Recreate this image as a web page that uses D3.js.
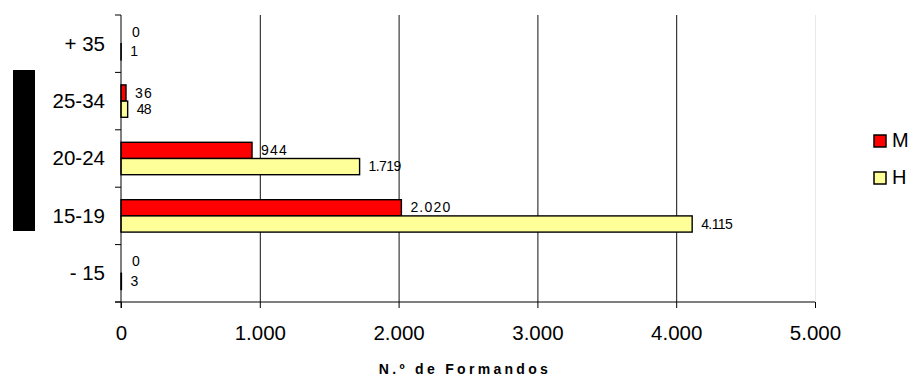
<!DOCTYPE html>
<html>
<head>
<meta charset="utf-8">
<script src="https://cdn.jsdelivr.net/npm/d3@7"></script>
<style>
  body { margin: 0; background: #fff; }
  text { font-family: 'Liberation Sans', Arial, sans-serif; }
</style>
</head>
<body>
<svg id="chart" width="913" height="376"></svg>
<script>
// age groups, top to bottom
var categories = ['+ 35', '25-34', '20-24', '15-19', '- 15']
var seriesNames = ['M', 'H']
var valuesM = [0, 36, 944, 2020, 0]
var valuesH = [1, 48, 1719, 4115, 3]
var xTicks = [0, 1000, 2000, 3000, 4000, 5000]
var colors = { M: '#ff0000', H: '#ffff99' }

var margin = { top: 15, left: 121, right: 98, bottom: 74 }
var svg = d3.select('#chart')
var width = +svg.attr('width') - margin.left - margin.right
var height = +svg.attr('height') - margin.top - margin.bottom

var fmt = function (v) {
    return d3.format(',')(v).replace(/,/g, '.')
}

var g = svg.append('g')
           .attr('transform', 'translate(' + margin.left + ',' + margin.top + ')')

var xScale = d3.scaleLinear().domain([0, 5000]).range([0, width])
var yScale = d3.scaleBand().domain(categories).range([0, height])
var inner = d3.scaleBand().domain(seriesNames).range([12.5, yScale.bandwidth() - 12.5])

// gridlines
g.selectAll('.grid')
 .data(xTicks.slice(1))
 .enter()
 .append('line')
 .attr('x1', function (d) { return xScale(d) + 0.5 })
 .attr('x2', function (d) { return xScale(d) + 0.5 })
 .attr('y1', 0)
 .attr('y2', height)
 .attr('stroke', function (d) { return d === 5000 ? '#e8e8e8' : '#111' })
 .attr('stroke-width', 1)

// bars
var rows = categories.map(function (c, i) {
    return { cat: c, M: valuesM[i], H: valuesH[i] }
})

var gs = g.selectAll('.row')
          .data(rows)
          .enter()
          .append('g')
          .attr('transform', function (d) { return 'translate(0,' + yScale(d.cat) + ')' })

seriesNames.forEach(function (s) {
    gs.filter(function (d) { return d[s] > 0 })
      .append('rect')
      .attr('x', 0)
      .attr('y', inner(s))
      .attr('width', function (d) { return xScale(d[s]) })
      .attr('height', inner.bandwidth())
      .attr('fill', colors[s])
      .attr('stroke', '#000')
      .attr('stroke-width', 1.4)

    gs.append('text')
      .attr('x', function (d) { return xScale(d[s]) + (d[s] === 0 ? 11 : 9) })
      .attr('y', function (d) {
          var off = d[s] === 0 ? -4 : -0.5
          return inner(s) + inner.bandwidth() / 2 + off
      })
      .attr('dy', '0.36em')
      .attr('font-size', '14px')
      .attr('letter-spacing', s === 'M' ? '1.2px' : '-0.6px')
      .attr('fill', '#000')
      .text(function (d) { return fmt(d[s]) })
})

// axes
var xAxis = d3.axisBottom(xScale).tickValues(xTicks).tickFormat(fmt).tickSize(6).tickPadding(17)
var gx = g.append('g')
          .attr('transform', 'translate(0,' + height + ')')
          .call(xAxis)
gx.attr('font-size', '20.5px')
  .attr('font-family', "'Liberation Sans', Arial, sans-serif")
gx.select('.domain').attr('d', 'M-6,0H' + width).attr('stroke', '#000')

var yAxis = d3.axisLeft(yScale).tickSize(0).tickPadding(16)
var gy = g.append('g').call(yAxis)
gy.attr('font-size', '20.5px')
  .attr('font-family', "'Liberation Sans', Arial, sans-serif")
gy.select('.domain').attr('d', 'M0,0V' + (height + 6)).attr('stroke', '#000')
gy.selectAll('.tick text').attr('dy', '0.34em')

// category boundary ticks
var bounds = categories.map(function (c) { return yScale(c) }).concat([height])
g.selectAll('.ytick')
 .data(bounds)
 .enter()
 .append('line')
 .attr('x1', -6)
 .attr('x2', 0)
 .attr('y1', function (d) { return d })
 .attr('y2', function (d) { return d })
 .attr('stroke', '#000')

// axis title
svg.append('text')
   .attr('x', 465)
   .attr('y', 374)
   .attr('text-anchor', 'middle')
   .attr('font-size', '14px')
   .attr('font-weight', 'bold')
   .attr('letter-spacing', '3.3px')
   .text('N.º de Formandos')

// redacted y title block
svg.append('rect')
   .attr('x', 13)
   .attr('y', 70)
   .attr('width', 22)
   .attr('height', 161)
   .attr('fill', '#000')

// legend
var legend = svg.append('g').attr('transform', 'translate(874,135)')
seriesNames.forEach(function (s, i) {
    var lg = legend.append('g').attr('transform', 'translate(0,' + (i * 37) + ')')
    lg.append('rect')
      .attr('x', 0)
      .attr('y', 0)
      .attr('width', 12)
      .attr('height', 12)
      .attr('fill', colors[s])
      .attr('stroke', '#000')
      .attr('stroke-width', 1.5)
    lg.append('text')
      .attr('x', 18)
      .attr('y', 12)
      .attr('font-size', '20px')
      .text(s)
})
</script>
</body>
</html>
